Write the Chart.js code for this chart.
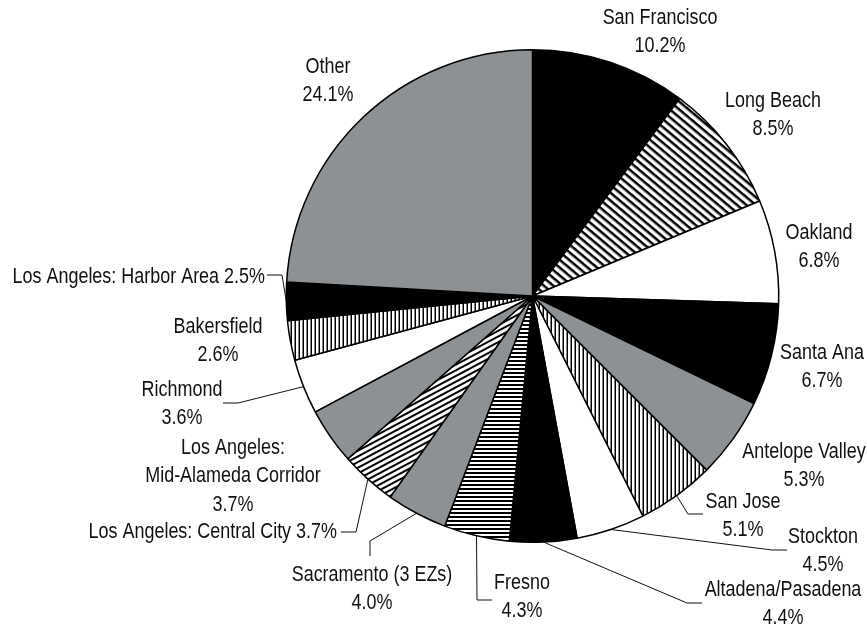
<!DOCTYPE html>
<html>
<head>
<meta charset="utf-8">
<script src="https://cdn.jsdelivr.net/npm/chart.js@4"></script>
<style>body{margin:0;background:#fff}</style>
</head>
<body>
<canvas id="pie" width="867" height="627"></canvas>
<script>
// enterprise zones, clockwise from 12 o'clock
const zones = ['San Francisco','Long Beach','Oakland','Santa Ana','Antelope Valley','San Jose','Stockton',
  'Altadena/Pasadena','Fresno','Sacramento (3 EZs)','Los Angeles: Central City','Los Angeles: Mid-Alameda Corridor',
  'Richmond','Bakersfield','Los Angeles: Harbor Area','Other'];
const shares = [10.2, 8.5, 6.8, 6.7, 5.3, 5.1, 4.5, 4.4, 4.3, 4.0, 3.7, 3.7, 3.6, 2.6, 2.5, 24.1];
const fillKeys = ['black','diagB','white','black','gray','vert','white','black','horiz','gray','diagF','gray','white','vert','black','gray'];

// how each label is written (lines) and where it sits, relative to the pie centre
const labelLines = [
  ['San Francisco','10.2%'], ['Long Beach','8.5%'], ['Oakland','6.8%'], ['Santa Ana','6.7%'],
  ['Antelope Valley','5.3%'], ['San Jose','5.1%'], ['Stockton','4.5%'], ['Altadena/Pasadena','4.4%'],
  ['Fresno','4.3%'], ['Sacramento (3 EZs)','4.0%'], ['Los Angeles: Central City 3.7%'],
  ['Los Angeles:','Mid-Alameda Corridor','3.7%'], ['Richmond','3.6%'], ['Bakersfield','2.6%'],
  ['Los Angeles: Harbor Area 2.5%'], ['Other','24.1%']
];
const labelPos = [
  {dx:127.5, dy:-278}, {dx:240.5, dy:-195}, {dx:286.5, dy:-63}, {dx:289.5, dy:57},
  {dx:271.5, dy:156},
  {dx:210.5, dy:206, lead:[[155.5,218],[170.5,218]]},
  {dx:290.5, dy:241, lead:[[239.5,254],[254.5,254]]},
  {dx:250.5, dy:294, lead:[[154.5,307],[169.5,307]]},
  {dx:-10.5, dy:287, lead:[[-55.5,304],[-40.5,304]]},
  {dx:-160.5, dy:279, lead:[[-162.5,245],[-162.5,260]]},
  {dx:-195.5, dy:236, align:'right', lead:[[-176.5,236],[-191.5,236]]},
  {dx:-299.5, dy:152},
  {dx:-350.5, dy:94, lead:[[-294.5,107],[-309.5,107]]},
  {dx:-314.5, dy:31},
  {dx:-267.5, dy:-19, align:'right', lead:[[-250.5,-21],[-265.5,-21]]},
  {dx:-204.5, dy:-229}
];

function stripes(period, black, rot) {
  const c = document.createElement('canvas');
  c.width = 8; c.height = period;
  const g = c.getContext('2d');
  g.fillStyle = '#fff'; g.fillRect(0, 0, 8, period);
  g.fillStyle = '#000'; g.fillRect(0, 0, 8, black);
  const p = g.createPattern(c, 'repeat');
  if (rot) p.setTransform(new DOMMatrix().rotate(rot));
  return p;
}
const fillStyles = {
  black: '#000', white: '#fff', gray: '#8d9193',
  diagB: stripes(6, 2.5, 40),
  diagF: stripes(5, 2, -28),
  vert: stripes(4, 1.5, 90),
  horiz: stripes(4, 2, 0)
};

// condensed look: Liberation Sans squeezed horizontally
function narrowText(ctx, t, x, y, align) {
  ctx.save();
  ctx.translate(x, y);
  ctx.scale(0.835, 1);
  ctx.textAlign = align;
  ctx.fillText(t, 0, 0);
  ctx.restore();
}

const labelPlugin = {
  id: 'labels',
  afterDraw(chart) {
    const ctx = chart.ctx;
    const arcs = chart.getDatasetMeta(0).data;
    ctx.save();
    ctx.font = '21.5px "Liberation Sans", Arial, sans-serif';
    ctx.fillStyle = '#111';
    ctx.strokeStyle = '#111';
    ctx.lineWidth = 1;
    ctx.textBaseline = 'middle';
    arcs.forEach((arc, i) => {
      const {x, y, startAngle, endAngle, outerRadius} = arc.getProps(['x','y','startAngle','endAngle','outerRadius'], true);
      const pos = labelPos[i];
      if (pos.lead) {
        const mid = (startAngle + endAngle) / 2;
        ctx.beginPath();
        ctx.moveTo(x + outerRadius * Math.cos(mid), y + outerRadius * Math.sin(mid));
        pos.lead.forEach(p => ctx.lineTo(x + p[0], y + p[1]));
        ctx.stroke();
      }
      labelLines[i].forEach((t, k) => narrowText(ctx, t, x + pos.dx, y + pos.dy + k * 28.5, pos.align || 'center'));
    });
    ctx.restore();
  }
};

new Chart(document.getElementById('pie'), {
  type: 'pie',
  data: {
    labels: zones,
    datasets: [{
      data: shares,
      backgroundColor: fillKeys.map(k => fillStyles[k]),
      borderColor: '#000',
      borderWidth: 1.5
    }]
  },
  options: {
    responsive: false,
    animation: false,
    layout: { padding: { left: 285.5, right: 87.5, top: 49, bottom: 84 } },
    plugins: { legend: { display: false }, tooltip: { enabled: false } }
  },
  plugins: [labelPlugin]
});
</script>
</body>
</html>
